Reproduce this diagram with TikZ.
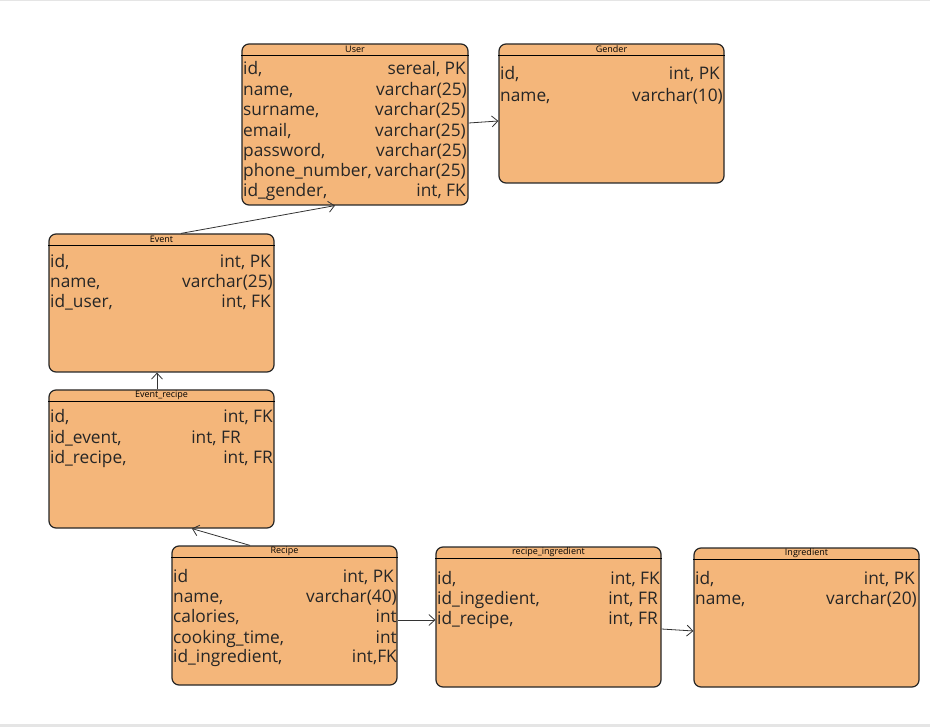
\documentclass[tikz,border=0pt]{standalone}
\usepackage{fontspec}
\setmainfont{Open Sans}
\usetikzlibrary{arrows.meta}
\definecolor{tblorange}{RGB}{244,182,122}
\begin{document}
\begin{tikzpicture}[x=1pt,y=-1pt,
    tbl/.style={draw=black!85,line width=1.2pt,fill=tblorange,rounded corners=7pt,inner sep=0pt},
    ttl/.style={font=\fontsize{9}{10}\selectfont,inner sep=0pt},
    fl/.style={anchor=base west,inner sep=0pt,font=\fontsize{17.3}{19}\selectfont,text=black!85},
    fr/.style={anchor=base east,inner sep=0pt,font=\fontsize{17.3}{19}\selectfont,text=black!85},
    link/.style={draw=black!80,line width=0.8pt,-{Straight Barb[length=6pt,width=11pt]}}]

  % Rahmen
  \useasboundingbox (0,0) rectangle (930,727);
  \fill[black!10] (0,0) rectangle (930,1.5);
  \fill[black!10] (0,724) rectangle (930,727);

  % Tabelle User
  \node[tbl,minimum width=226,minimum height=161] (user) at (355,124.5) {};
  \draw[line width=0.8pt] ([yshift=-12]user.north west) -- ([yshift=-12]user.north east);
  \node[ttl] (usert) at ([yshift=-6]user.north) {User};
  \node[fl] (user1l) at (243,75) {id,};
  \node[fr] (user1r) at (466,75) {sereal, PK};
  \node[fl] (user2l) at (243,95.5) {name,};
  \node[fr] (user2r) at (467,95.5) {varchar(25)};
  \node[fl] (user3l) at (243,116) {surname,};
  \node[fr] (user3r) at (466,116) {varchar(25)};
  \node[fl] (user4l) at (243,136.5) {email,};
  \node[fr] (user4r) at (466,136.5) {varchar(25)};
  \node[fl] (user5l) at (243,157) {password,};
  \node[fr] (user5r) at (467,157) {varchar(25)};
  \node[fl] (user6l) at (243,177) {phone\_number,};
  \node[fr] (user6r) at (466,177) {varchar(25)};
  \node[fl] (user7l) at (243,197) {id\_gender,};
  \node[fr] (user7r) at (466,197) {int, FK};

  % Tabelle Gender
  \node[tbl,minimum width=225,minimum height=139] (gender) at (611.5,113.5) {};
  \draw[line width=0.8pt] ([yshift=-12]gender.north west) -- ([yshift=-12]gender.north east);
  \node[ttl] (gendert) at ([yshift=-6]gender.north) {Gender};
  \node[fl] (gender1l) at (500,79.5) {id,};
  \node[fr] (gender1r) at (720,79.5) {int, PK};
  \node[fl] (gender2l) at (500,101.5) {name,};
  \node[fr] (gender2r) at (723,101.5) {varchar(10)};

  % Tabelle Event
  \node[tbl,minimum width=225,minimum height=138] (event) at (161.5,303) {};
  \draw[line width=0.8pt] ([yshift=-12]event.north west) -- ([yshift=-12]event.north east);
  \node[ttl] (eventt) at ([yshift=-6]event.north) {Event};
  \node[fl] (event1l) at (50,268) {id,};
  \node[fr] (event1r) at (271,268) {int, PK};
  \node[fl] (event2l) at (50,288) {name,};
  \node[fr] (event2r) at (273,288) {varchar(25)};
  \node[fl] (event3l) at (50,308) {id\_user,};
  \node[fr] (event3r) at (271,308) {int, FK};

  % Tabelle Event_recipe
  \node[tbl,minimum width=225,minimum height=138] (evrec) at (161.5,459) {};
  \draw[line width=0.8pt] ([yshift=-12]evrec.north west) -- ([yshift=-12]evrec.north east);
  \node[ttl] (evrect) at ([yshift=-6]evrec.north) {Event\_recipe};
  \node[fl] (evrec1l) at (50,423) {id,};
  \node[fr] (evrec1r) at (273,423) {int, FK};
  \node[fl] (evrec2l) at (50,443.5) {id\_event,};
  \node[fr] (evrec2r) at (241,443.5) {int, FR};
  \node[fl] (evrec3l) at (50,463.5) {id\_recipe,};
  \node[fr] (evrec3r) at (273,463.5) {int, FR};

  % Tabelle Recipe
  \node[tbl,minimum width=225,minimum height=139] (recipe) at (284.5,615.5) {};
  \draw[line width=0.8pt] ([yshift=-12]recipe.north west) -- ([yshift=-12]recipe.north east);
  \node[ttl] (recipet) at ([yshift=-6]recipe.north) {Recipe};
  \node[fl] (recipe1l) at (173,582) {id};
  \node[fr] (recipe1r) at (394,582) {int, PK};
  \node[fl] (recipe2l) at (173,602) {name,};
  \node[fr] (recipe2r) at (397,602) {varchar(40)};
  \node[fl] (recipe3l) at (173,622) {calories,};
  \node[fr] (recipe3r) at (397,622) {int};
  \node[fl] (recipe4l) at (173,643) {cooking\_time,};
  \node[fr] (recipe4r) at (397,643) {int};
  \node[fl] (recipe5l) at (173,662.5) {id\_ingredient,};
  \node[fr] (recipe5r) at (397,662.5) {int,FK};

  % Tabelle recipe_ingredient
  \node[tbl,minimum width=225,minimum height=140] (recing) at (548.5,617) {};
  \draw[line width=0.8pt] ([yshift=-12]recing.north west) -- ([yshift=-12]recing.north east);
  \node[ttl] (recingt) at ([yshift=-6]recing.north) {recipe\_ingredient};
  \node[fl] (recing1l) at (437,584) {id,};
  \node[fr] (recing1r) at (660,584) {int, FK};
  \node[fl] (recing2l) at (437,604) {id\_ingedient,};
  \node[fr] (recing2r) at (658,604) {int, FR};
  \node[fl] (recing3l) at (437,624) {id\_recipe,};
  \node[fr] (recing3r) at (658,624) {int, FR};

  % Tabelle Ingredient
  \node[tbl,minimum width=225,minimum height=139] (ingr) at (806.5,617.5) {};
  \draw[line width=0.8pt] ([yshift=-12]ingr.north west) -- ([yshift=-12]ingr.north east);
  \node[ttl] (ingrt) at ([yshift=-6]ingr.north) {Ingredient};
  \node[fl] (ingr1l) at (695,584) {id,};
  \node[fr] (ingr1r) at (915,584) {int, PK};
  \node[fl] (ingr2l) at (695,604) {name,};
  \node[fr] (ingr2r) at (917,604) {varchar(20)};

  % Verbindungen
  \draw[link] ([xshift=19.5]event.north) -- ([xshift=-20]user.south);
  \draw[link] ([yshift=1.5]user.east) -- ([yshift=-7.5]gender.west);
  \draw[link] ([xshift=-4.5]evrec.north) -- ([xshift=-4.5]event.south);
  \draw[link] ([xshift=-34.5]recipe.north) -- ([xshift=30.5]evrec.south);
  \draw[link] ([yshift=-4.5]recipe.east) -- ([yshift=-3]recing.west);
  \draw[link] ([yshift=-12]recing.east) -- ([yshift=-13.5]ingr.west);

\end{tikzpicture}
\end{document}
